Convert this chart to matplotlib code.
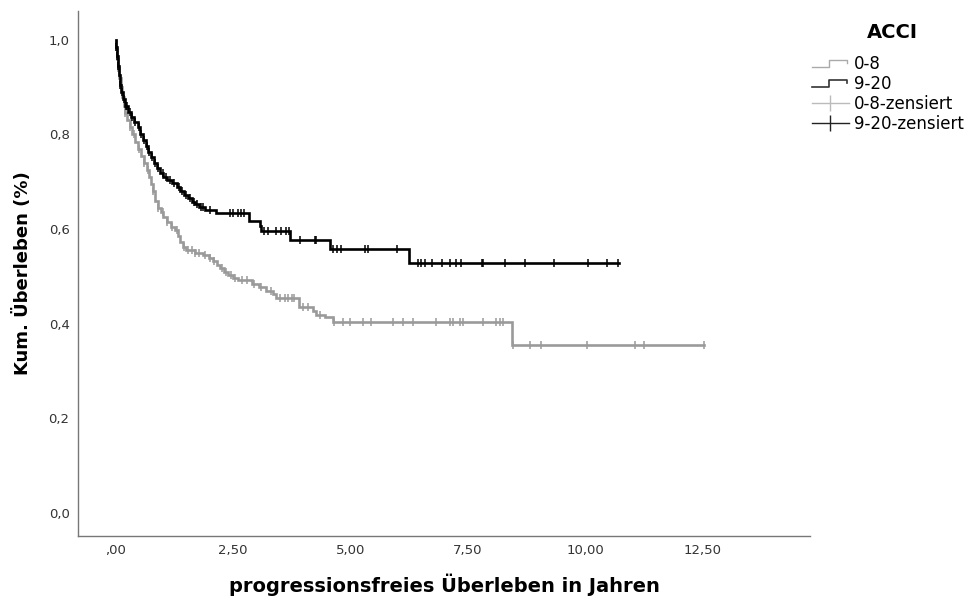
import numpy as np
import matplotlib
matplotlib.use("Agg")
import matplotlib.pyplot as plt
from matplotlib.lines import Line2D
from matplotlib.legend_handler import HandlerBase

# Kaplan-Meier steps: time of each drop and survival after it
t_hi = [0, 0.01, 0.03, 0.05, 0.07, 0.09, 0.11, 0.15, 0.2, 0.26, 0.33, 0.4, 0.47,
        0.53, 0.58, 0.64, 0.7, 0.76, 0.82, 0.88, 0.94, 1.02, 1.1, 1.2, 1.3, 1.38,
        1.46, 1.54, 1.62, 1.7, 1.78, 1.9, 2.14, 2.83, 3.08, 3.1, 3.72, 4.57, 6.24]
s_hi = [1.0, 0.985, 0.965, 0.945, 0.925, 0.905, 0.89, 0.875, 0.86, 0.848, 0.836,
        0.826, 0.815, 0.80, 0.788, 0.775, 0.763, 0.752, 0.74, 0.728, 0.718, 0.71,
        0.703, 0.697, 0.688, 0.68, 0.672, 0.665, 0.658, 0.652, 0.646, 0.641, 0.634,
        0.617, 0.606, 0.595, 0.577, 0.557, 0.529]
end_hi = 10.72

t_lo = [0, 0.01, 0.03, 0.05, 0.08, 0.11, 0.14, 0.17, 0.2, 0.24, 0.3, 0.36, 0.42,
        0.48, 0.54, 0.6, 0.66, 0.72, 0.76, 0.8, 0.85, 0.9, 0.96, 1.02, 1.1, 1.18,
        1.26, 1.32, 1.38, 1.43, 1.5, 1.7, 1.86, 1.98, 2.07, 2.15, 2.22, 2.3, 2.4,
        2.5, 2.6, 2.9, 3.05, 3.2, 3.35, 3.42, 3.9, 4.2, 4.27, 4.45, 4.62, 8.43]
s_lo = [1.0, 0.98, 0.96, 0.94, 0.92, 0.90, 0.88, 0.86, 0.845, 0.83, 0.815, 0.80,
        0.785, 0.77, 0.755, 0.74, 0.725, 0.71, 0.695, 0.68, 0.66, 0.645, 0.635,
        0.625, 0.615, 0.605, 0.597, 0.585, 0.572, 0.562, 0.555, 0.55, 0.545, 0.538,
        0.532, 0.524, 0.517, 0.51, 0.503, 0.496, 0.492, 0.483, 0.477, 0.47, 0.462,
        0.454, 0.436, 0.426, 0.419, 0.415, 0.404, 0.355]
end_lo = 12.53

# censored cases
c_hi = [0.02, 0.04, 0.06, 0.1, 0.13, 0.18, 0.22, 0.25, 0.3, 0.35, 0.42, 0.5, 0.55,
        0.6, 0.66, 0.72, 0.78, 0.85, 0.9, 1.0, 1.08, 1.15, 1.25, 1.35, 1.42, 1.5,
        1.58, 1.66, 1.74, 1.82, 1.86, 2.0, 2.43, 2.5, 2.6, 2.67, 2.74, 3.17, 3.24,
        3.42, 3.53, 3.63, 3.7, 3.92, 4.24, 4.27, 4.63, 4.71, 4.8, 5.3, 5.37, 5.98,
        6.44, 6.51, 6.58, 6.74, 6.95, 7.11, 7.25, 7.36, 7.79, 7.82, 8.28, 8.71,
        9.33, 10.06, 10.47, 10.69]
c_lo = [0.05, 0.1, 0.2, 0.3, 0.4, 0.5, 0.6, 0.7, 0.8, 0.9, 1.0, 1.1, 1.2, 1.3,
        1.45, 1.55, 1.62, 1.7, 1.78, 1.9, 2.0, 2.1, 2.26, 2.35, 2.45, 2.55, 2.7,
        2.8, 2.95, 3.1, 3.3, 3.5, 3.6, 3.68, 3.75, 3.8, 4.0, 4.1, 4.35, 4.66, 4.84,
        4.98, 5.27, 5.44, 5.9, 6.12, 6.33, 6.83, 7.11, 7.18, 7.33, 7.40, 7.82, 8.10,
        8.18, 8.25, 8.46, 8.82, 9.05, 10.04, 11.05, 11.25, 12.52]

x_ticks = [0, 2.5, 5, 7.5, 10, 12.5]
x_ticklabels = [",00", "2,50", "5,00", "7,50", "10,00", "12,50"]
y_ticks = [0, 0.2, 0.4, 0.6, 0.8, 1.0]
y_ticklabels = ["0,0", "0,2", "0,4", "0,6", "0,8", "1,0"]

GRAY = "#9a9a9a"
BLACK = "#000000"


def surv_at(times, surv, t):
    idx = np.searchsorted(times, t, side="right") - 1
    return np.array(surv)[idx]


class StepHandler(HandlerBase):
    # little step glyph like the SPSS legend
    def create_artists(self, legend, orig_handle, xdescent, ydescent,
                       width, height, fontsize, trans):
        xs = np.array([0, 0.45, 0.45, 0.95, 0.95]) * width - xdescent
        ys = np.array([0.2, 0.2, 0.8, 0.8, 0.5]) * height - ydescent
        ln = Line2D(xs, ys, color=orig_handle.get_color(),
                    lw=orig_handle.get_linewidth(), transform=trans)
        return [ln]


fig = plt.figure(figsize=(9.66, 5.98), dpi=100)
ax = fig.add_axes([0.0807, 0.1037, 0.7578, 0.8779])

for t, s, end, c, col in [(t_lo, s_lo, end_lo, c_lo, GRAY),
                           (t_hi, s_hi, end_hi, c_hi, BLACK)]:
    tt = list(t) + [end]
    ss = list(s) + [s[-1]]
    ax.step(tt, ss, where="post", color=col, lw=1.9, solid_joinstyle="miter")
    ax.plot(c, surv_at(t, s, c), ls="none", marker="|", ms=6, mew=1.1, color=col)

ax.set_xlim(-0.8, 14.78)
ax.set_ylim(-0.049, 1.061)
ax.set_xticks(x_ticks)
ax.set_xticklabels(x_ticklabels)
ax.set_yticks(y_ticks)
ax.set_yticklabels(y_ticklabels)
ax.tick_params(length=0, labelsize=9.5, labelcolor="#333333", pad=6)
for side in ["top", "right"]:
    ax.spines[side].set_visible(False)
for side in ["left", "bottom"]:
    ax.spines[side].set_color("#777777")
    ax.spines[side].set_linewidth(1.0)

ax.set_xlabel("progressionsfreies Überleben in Jahren", fontsize=14,
              fontweight="bold", labelpad=12)
ax.set_ylabel("Kum. Überleben (%)", fontsize=13, fontweight="bold", labelpad=12)

# legend: title as separate text so the gap matches
fig.text(0.924, 1 - 33 / 598, "ACCI", ha="center", va="center",
         fontsize=14, fontweight="bold")
h_lo = Line2D([], [], color="#aaaaaa", lw=1.0)
h_hi = Line2D([], [], color="#333333", lw=1.2)
h_clo = Line2D([], [], color="#bbbbbb", lw=1.0, marker="|", ms=12, mew=1.0)
h_chi = Line2D([], [], color="#222222", lw=1.0, marker="|", ms=12, mew=1.0)
leg = fig.legend([h_lo, h_hi, h_clo, h_chi],
                 ["0-8", "9-20", "0-8-zensiert", "9-20-zensiert"],
                 handler_map={h_lo: StepHandler(), h_hi: StepHandler()},
                 loc="upper left", bbox_to_anchor=(812 / 966, 1 - 55 / 598),
                 frameon=False, fontsize=12, numpoints=1,
                 handlelength=2.2, handletextpad=0.3, labelspacing=0.12,
                 borderaxespad=0, borderpad=0)

fig.savefig("out.png", dpi=100)
